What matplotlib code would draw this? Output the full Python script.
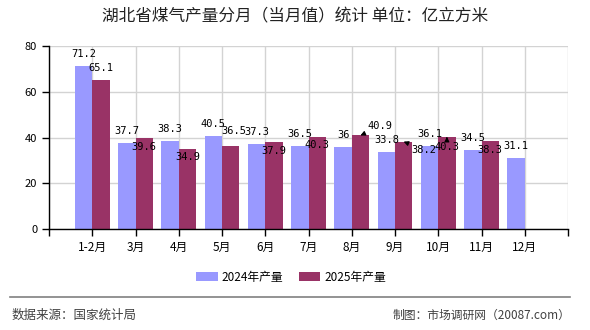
import matplotlib
matplotlib.use("Agg")
import matplotlib.pyplot as plt

plt.rcParams["font.family"] = ["Noto Sans CJK SC", "DejaVu Sans"]

# data
months = ["1-2月", "3月", "4月", "5月", "6月", "7月", "8月", "9月", "10月", "11月", "12月"]
prod_2024 = [71.2, 37.7, 38.3, 40.5, 37.3, 36.5, 36, 33.8, 36.1, 34.5, 31.1]
prod_2025 = [65.1, 39.6, 34.9, 36.5, 37.9, 40.3, 40.9, 38.2, 40.3, 38.3]

# label offsets in pixels (dx, dy), chosen to mimic the original layout
off_2024 = [(0, 12)] * len(prod_2024)
off_2025 = [(0, 12), (0, -9), (0, -8), (3, 15), (0, -9), (0, -8),
            (20, 9), (20, -8), (0, -10), (0, -9)]
arrow_2025 = [False] * 6 + [True, True, True, False]

c24 = "#9999FF"
c25 = "#993366"
w = 0.4

fig = plt.figure(figsize=(5.9, 3.3), dpi=100)
ax = fig.add_axes([49 / 590, 101 / 330, 519 / 590, 183 / 330])

x24 = [i + 1 - w / 2 for i in range(len(prod_2024))]
x25 = [i + 1 + w / 2 for i in range(len(prod_2025))]
ax.bar(x24, prod_2024, width=w, color=c24, label="2024年产量", zorder=2)
ax.bar(x25, prod_2025, width=w, color=c25, label="2025年产量", zorder=2)

lab_font = dict(family="DejaVu Sans Mono", size=7.5, color="black")
for x, v, (dx, dy) in zip(x24, prod_2024, off_2024):
    ax.annotate(f"{v:g}", xy=(x, v), xytext=(dx, dy), textcoords="offset pixels",
                ha="center", va="center", zorder=4, **lab_font)
for x, v, (dx, dy), arr in zip(x25, prod_2025, off_2025, arrow_2025):
    props = dict(arrowstyle="-|>", color="black", lw=0.8, mutation_scale=7) if arr else None
    ax.annotate(f"{v:g}", xy=(x, v), xytext=(dx, dy), textcoords="offset pixels",
                ha="center", va="center", arrowprops=props, zorder=4, **lab_font)

ax.set_xlim(0, 12)
ax.set_ylim(0, 80)
ax.set_yticks([0, 20, 40, 60, 80])
ax.set_xticks(range(13))
ax.set_xticklabels([""] + months + [""])
ax.tick_params(axis="both", direction="out", length=5, width=1, color="black", labelsize=8.5)
ax.tick_params(axis="y", labelsize=8)
ax.grid(True, color="#D3D3D3", lw=1, zorder=0)
ax.set_axisbelow(True)
for s in ["top", "right"]:
    ax.spines[s].set_visible(False)
for s in ["left", "bottom"]:
    ax.spines[s].set_color("black")
    ax.spines[s].set_linewidth(1)

fig.text(0.5, 1 - 17 / 330, "湖北省煤气产量分月（当月值）统计 单位：亿立方米",
         ha="center", va="center", fontsize=12, color="#222222")

fig.legend(loc="center", bbox_to_anchor=(291 / 590, 1 - 277 / 330), ncol=2, frameon=False,
           fontsize=8.5, handlelength=1.8, handleheight=0.75, columnspacing=1.3, handletextpad=0.35)

fig.add_artist(plt.Line2D([10 / 590, 570 / 590], [1 - 297 / 330] * 2, color="#808080", lw=1.2))
fig.text(12 / 590, 1 - 315 / 330, "数据来源：国家统计局", ha="left", va="center",
         fontsize=9, color="#404040")
fig.text(570 / 590, 1 - 315 / 330, "制图：市场调研网（20087.com）", ha="right", va="center",
         fontsize=8.5, color="#404040")

fig.savefig("out.png", dpi=100)
